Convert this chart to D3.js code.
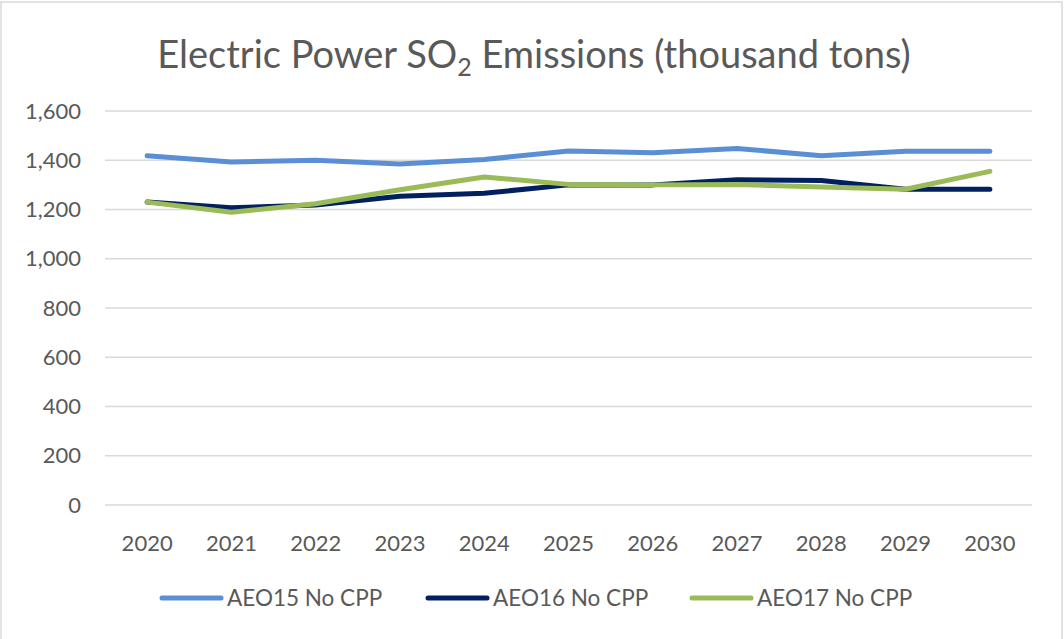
<!DOCTYPE html>
<html><head><meta charset="utf-8">
<script src="https://cdn.jsdelivr.net/npm/d3@7"></script>
<style>body{margin:0;background:#fff}svg{display:block}text{font-family:Lato,"Open Sans",sans-serif;fill:#595959}</style>
</head><body><svg id="c" width="1064" height="639"></svg>
<script>
const years = ["2020","2021","2022","2023","2024","2025","2026","2027","2028","2029","2030"];
const aeo15 = [1418,1393,1400,1385,1403,1438,1430,1448,1418,1437,1437];
const aeo16 = [1230,1207,1218,1254,1266,1300,1300,1321,1318,1282,1282];
const aeo17 = [1230,1189,1223,1280,1332,1302,1300,1302,1291,1282,1355];
const seriesNames = ["AEO15 No CPP","AEO16 No CPP","AEO17 No CPP"];
const colors = ["#5a8fd6","#002060","#9bbb59"];
const yTicks = [0,200,400,600,800,1000,1200,1400,1600];

const svg = d3.select("#c");
svg.append("rect").attr("x",1).attr("y",2).attr("width",1061).attr("height",640).attr("fill","#fff").attr("stroke","#d9d9d9").attr("stroke-width",1.5);

const x = d3.scaleBand().domain(years).range([105,1032]);
const y = d3.scaleLinear().domain([0,1600]).range([505,111]);

// gridlines
svg.append("g").selectAll("line").data(yTicks).join("line")
  .attr("x1",105).attr("x2",1032).attr("y1",d=>y(d)).attr("y2",d=>y(d))
  .attr("stroke","#d9d9d9").attr("stroke-width",1.5);

// y axis
const ya = svg.append("g").attr("transform","translate(81,0)")
  .call(d3.axisLeft(y).tickValues(yTicks).tickSize(0).tickPadding(0).tickFormat(d3.format(",")));
ya.select(".domain").remove();
ya.selectAll("text").style("font-size","22px").attr("fill","#595959").style("font-family","Lato,'Open Sans',sans-serif");

// x axis
const xa = svg.append("g").attr("transform","translate(0,531)")
  .call(d3.axisBottom(x).tickSize(0).tickPadding(0));
xa.select(".domain").remove();
xa.selectAll("text").style("font-size","22px").attr("fill","#595959").attr("dy","0.9em").style("font-family","Lato,'Open Sans',sans-serif");

const line = d3.line().x((d,i)=>x(years[i])+x.bandwidth()/2).y(d=>y(d));
[aeo15,aeo16,aeo17].forEach((s,i)=>{
  svg.append("path").datum(s).attr("d",line).attr("fill","none")
    .attr("stroke",colors[i]).attr("stroke-width",5).attr("stroke-linecap","round").attr("stroke-linejoin","round");
});

// title
const t = svg.append("text").attr("x",534).attr("y",68).attr("text-anchor","middle").style("font-size","38px");
t.append("tspan").text("Electric Power SO");
t.append("tspan").text("2").style("font-size","25px").attr("dy",8);
t.append("tspan").text(" Emissions (thousand tons)").attr("dy",-8);

// legend
const legX = [160,426,690];
seriesNames.forEach((n,i)=>{
  svg.append("line").attr("x1",legX[i]+2).attr("x2",legX[i]+61).attr("y1",598).attr("y2",598)
    .attr("stroke",colors[i]).attr("stroke-width",5).attr("stroke-linecap","round");
  svg.append("text").attr("x",legX[i]+67).attr("y",606).style("font-size","22.5px").text(n);
});
</script></body></html>
